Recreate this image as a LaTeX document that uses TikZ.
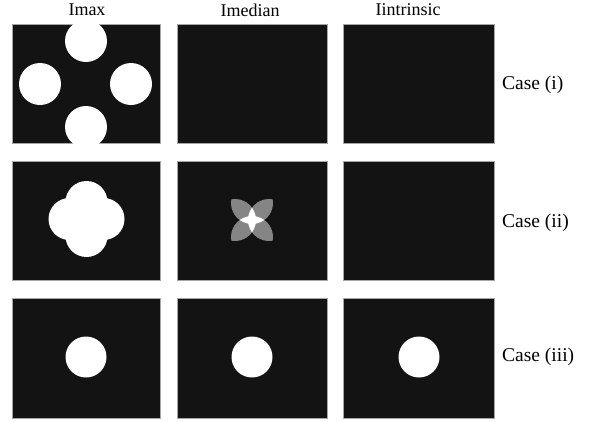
\documentclass[tikz,border=0pt]{standalone}
\usepackage{fontspec}
\setmainfont{Liberation Serif}
\definecolor{panelc}{HTML}{131313}
\definecolor{petal}{HTML}{858585}
\begin{document}
\begin{tikzpicture}[x=1pt,y=-1pt,
  panel/.style={fill=panelc,draw=gray!70,line width=0.5pt},
  blob/.style={fill=white},
  hdr/.style={font=\fontsize{18}{20}\selectfont,inner sep=0pt},
  caselbl/.style={font=\fontsize{19.5}{22}\selectfont,anchor=west,inner sep=0pt}]
\fill[white] (0,0) rectangle (604,421);
% headers
\node[hdr] (hmax) at (87,10) {Imax};
\node[hdr] (hmed) at (250,10) {Imedian};
\node[hdr] (hint) at (408,10) {Iintrinsic};
% panels
\foreach \x/\X in {12/160,177/327,343/494}{
  \foreach \y/\Y in {24/143,161/280,298/418}{
    \path[panel] (\x,\y) rectangle (\X,\Y);
  }
}
% row 1, Imax: four circles clipped by the panel
\begin{scope}
  \clip (12,24) rectangle (160,143);
  \fill[blob] (40,84) circle (21pt);
  \fill[blob] (131,84) circle (21pt);
  \fill[blob] (86,41) circle (21pt);
  \fill[blob] (86,127) circle (21pt);
\end{scope}
% row 2, Imax: union of four overlapping circles
\fill[blob] (69.5,219) circle (21pt) (103.5,219) circle (21pt)
            (86.5,202) circle (21pt) (86.5,236) circle (21pt);
% row 2, Imedian: pairwise overlaps grey, triple overlaps white
\def\cL{(235,220) circle (21pt)}
\def\cR{(269,220) circle (21pt)}
\def\cT{(252,203) circle (21pt)}
\def\cB{(252,237) circle (21pt)}
\foreach \a/\b in {\cT/\cR,\cR/\cB,\cB/\cL,\cL/\cT}{
  \begin{scope}
    \clip \a;
    \fill[petal] \b;
  \end{scope}
}
\begin{scope}\clip \cT; \clip \cL; \fill[white] \cR;\end{scope}
\begin{scope}\clip \cT; \clip \cL; \fill[white] \cB;\end{scope}
\begin{scope}\clip \cT; \clip \cR; \fill[white] \cB;\end{scope}
\begin{scope}\clip \cL; \clip \cR; \fill[white] \cB;\end{scope}
% row 3: single circle in each panel
\fill[blob] (86,357) circle (20.5pt);
\fill[blob] (252,357) circle (20.5pt);
\fill[blob] (419,357) circle (20.5pt);
% case labels
\node[caselbl] (c1) at (502,85) {Case (i)};
\node[caselbl] (c2) at (502,223) {Case (ii)};
\node[caselbl] (c3) at (502,357) {Case (iii)};
\pgfresetboundingbox
\useasboundingbox (0,0) rectangle (604,421);
\end{tikzpicture}
\end{document}
